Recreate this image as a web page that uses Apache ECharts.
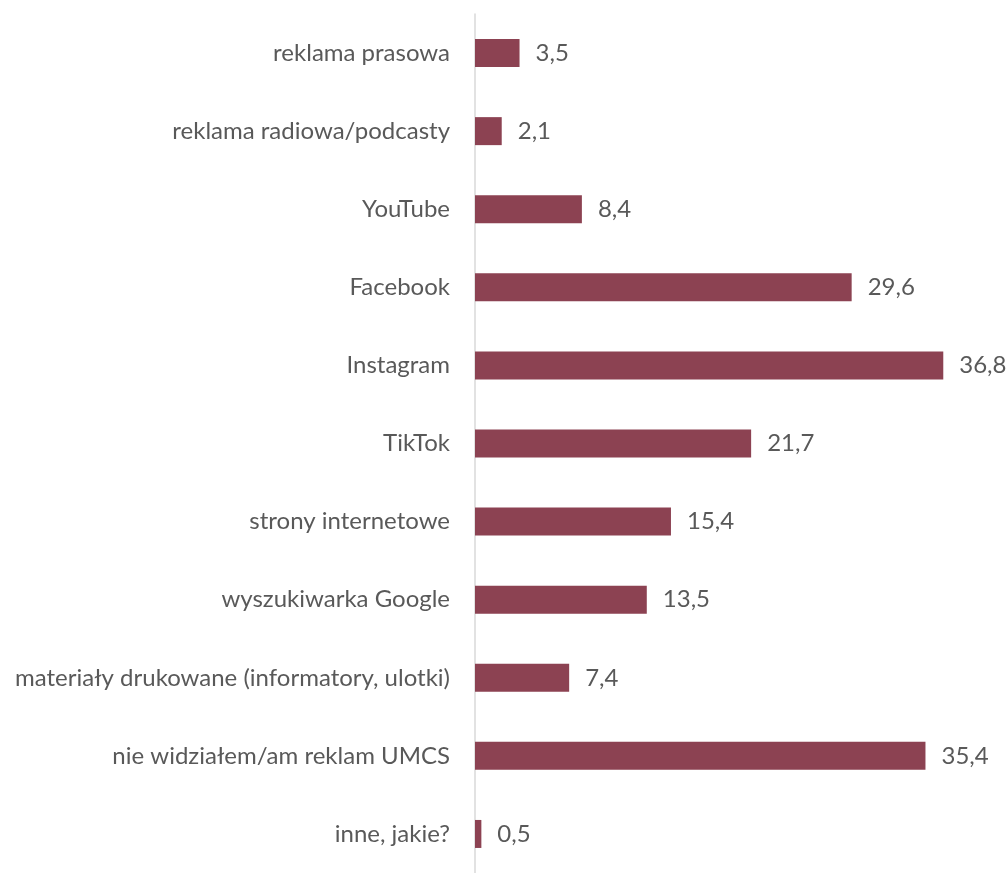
<!DOCTYPE html>
<html><head><meta charset="utf-8">
<script src="https://cdn.jsdelivr.net/npm/echarts@6/dist/echarts.min.js"></script>
<style>html,body{margin:0;padding:0;background:#fff}#c{width:1008px;height:873px}</style>
</head><body><div id="c"></div>
<script>
const categories = ["reklama prasowa","reklama radiowa/podcasty","YouTube","Facebook","Instagram","TikTok","strony internetowe","wyszukiwarka Google","materiały drukowane (informatory, ulotki)","nie widziałem/am reklam UMCS","inne, jakie?"];
const values = [3.5,2.1,8.4,29.6,36.8,21.7,15.4,13.5,7.4,35.4,0.5];
const chart = echarts.init(document.getElementById('c'));
chart.setOption({
  animation:false,
  grid:{left:475,right:24,top:14,height:867,containLabel:false},
  xAxis:{type:'value',min:0,max:40,show:false},
  yAxis:{type:'category',data:categories,inverse:true,
    axisLine:{lineStyle:{color:'#d9d9d9',width:1.5}},axisTick:{show:false},
    axisLabel:{margin:25,color:'#595959',fontSize:24,fontFamily:'Lato'}},
  series:[{type:'bar',data:values,barWidth:28,
    itemStyle:{color:'#8c4252'},
    label:{show:true,position:'right',distance:16,color:'#595959',fontSize:24,fontFamily:'Lato',
      formatter:p=>String(p.value).replace('.',',')}}]
});
</script></body></html>
